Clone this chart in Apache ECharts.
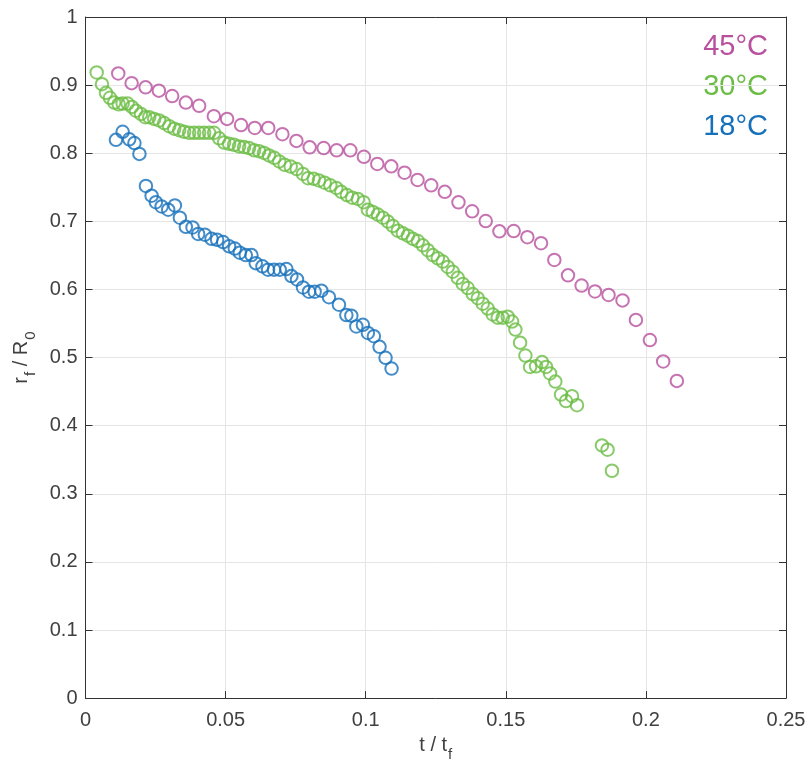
<!DOCTYPE html>
<html><head><meta charset="utf-8">
<script src="https://cdn.jsdelivr.net/npm/echarts@6/dist/echarts.min.js"></script>
<style>html,body{margin:0;padding:0;background:#fff}#c{width:810px;height:767px}</style>
</head><body><div id="c"></div>
<script>
const seriesNames = ['45°C', '30°C', '18°C'];
const seriesColors = ['#B8509F', '#6BBD45', '#1770BA'];
const xTicks = [0, 0.05, 0.1, 0.15, 0.2, 0.25];
const yTicks = [0, 0.1, 0.2, 0.3, 0.4, 0.5, 0.6, 0.7, 0.8, 0.9, 1];

const t45 = [0.01169,0.01646,0.02145,0.02619,0.03093,0.03582,0.04056,0.04580,0.05053,0.05552,0.06041,0.06522,0.07028,0.07527,0.08001,0.08500,0.08963,0.09451,0.09936,0.10413,0.10912,0.11386,0.11850,0.12338,0.12823,0.13311,0.13799,0.14284,0.14772,0.15282,0.15770,0.16258,0.16732,0.17220,0.17705,0.18182,0.18667,0.19166,0.19644,0.20143,0.20617,0.21105];
const r45 = [0.9171,0.9029,0.8967,0.8919,0.8839,0.8743,0.8696,0.8543,0.8504,0.8414,0.8371,0.8371,0.8279,0.8181,0.8086,0.8076,0.8043,0.8043,0.7947,0.7843,0.7807,0.7714,0.7607,0.7529,0.7433,0.7279,0.7147,0.7004,0.6853,0.6857,0.6767,0.6679,0.6433,0.6207,0.6057,0.5971,0.5919,0.5839,0.5553,0.5257,0.4943,0.4657];

const t30 = [0.00399,0.00588,0.00731,0.00873,0.01026,0.01183,0.01326,0.01504,0.01657,0.01800,0.01978,0.02131,0.02274,0.02452,0.02630,0.02808,0.02986,0.03165,0.03343,0.03521,0.03699,0.03877,0.04056,0.04234,0.04412,0.04590,0.04768,0.04946,0.05125,0.05303,0.05481,0.05659,0.05837,0.06016,0.06194,0.06372,0.06550,0.06736,0.06914,0.07110,0.07324,0.07537,0.07762,0.07940,0.08143,0.08332,0.08535,0.08738,0.08952,0.09130,0.09330,0.09522,0.09722,0.09925,0.10078,0.10257,0.10435,0.10613,0.10791,0.10969,0.11147,0.11326,0.11504,0.11682,0.11860,0.12038,0.12217,0.12395,0.12573,0.12751,0.12929,0.13108,0.13286,0.13464,0.13642,0.13820,0.13999,0.14177,0.14355,0.14533,0.14711,0.14890,0.15068,0.15225,0.15342,0.15510,0.15699,0.15866,0.16080,0.16294,0.16436,0.16579,0.16768,0.16971,0.17149,0.17363,0.17541,0.18432,0.18631,0.18788];
const r30 = [0.9186,0.9014,0.8886,0.8814,0.8743,0.8719,0.8729,0.8729,0.8680,0.8624,0.8576,0.8529,0.8529,0.8504,0.8481,0.8443,0.8396,0.8361,0.8338,0.8314,0.8300,0.8300,0.8300,0.8300,0.8300,0.8300,0.8219,0.8157,0.8139,0.8124,0.8100,0.8090,0.8076,0.8043,0.8029,0.8004,0.7967,0.7933,0.7880,0.7830,0.7804,0.7767,0.7696,0.7633,0.7624,0.7600,0.7567,0.7529,0.7490,0.7433,0.7386,0.7347,0.7329,0.7281,0.7171,0.7138,0.7100,0.7053,0.6996,0.6933,0.6862,0.6824,0.6790,0.6743,0.6710,0.6647,0.6576,0.6504,0.6457,0.6410,0.6330,0.6260,0.6170,0.6080,0.6020,0.5933,0.5871,0.5790,0.5719,0.5633,0.5586,0.5586,0.5600,0.5529,0.5410,0.5219,0.5029,0.4862,0.4871,0.4933,0.4862,0.4767,0.4647,0.4457,0.4362,0.4433,0.4300,0.3710,0.3647,0.3338];

const t18 = [0.01087,0.01326,0.01561,0.01746,0.01924,0.02156,0.02359,0.02512,0.02716,0.02951,0.03190,0.03368,0.03582,0.03820,0.04020,0.04259,0.04498,0.04697,0.04911,0.05125,0.05328,0.05506,0.05720,0.05923,0.06076,0.06315,0.06515,0.06728,0.06932,0.07170,0.07349,0.07548,0.07762,0.07976,0.08179,0.08418,0.08689,0.09045,0.09309,0.09487,0.09665,0.09900,0.10078,0.10292,0.10495,0.10709,0.10923];
const r18 = [0.8196,0.8314,0.8204,0.8150,0.7990,0.7519,0.7376,0.7281,0.7219,0.7171,0.7233,0.7053,0.6919,0.6910,0.6814,0.6804,0.6743,0.6729,0.6696,0.6633,0.6600,0.6539,0.6504,0.6504,0.6386,0.6339,0.6290,0.6290,0.6290,0.6300,0.6196,0.6147,0.6029,0.5967,0.5967,0.5981,0.5886,0.5776,0.5624,0.5614,0.5457,0.5481,0.5361,0.5314,0.5157,0.4996,0.4839];

const FONT = 'Liberation Sans, Arial, Helvetica, sans-serif';
const TXT = '#404040';
const AX = '#333333';
const xs = [t45, t30, t18], ys = [r45, r30, r18];

function zip(a, b) { return a.map((v, i) => [v, b[i]]); }

const chart = echarts.init(document.getElementById('c'), null, { renderer: 'canvas' });
const tickStyle = { show: true, inside: true, length: 7, lineStyle: { color: AX, width: 1 } };
const axLine = { show: true, onZero: false, lineStyle: { color: AX, width: 1 } };
const nameRich = {
  m: { fontSize: 20, fontFamily: FONT, color: TXT, lineHeight: 22, verticalAlign: 'top' },
  s: { fontSize: 15, fontFamily: FONT, color: TXT, lineHeight: 16, verticalAlign: 'top', padding: [12, 0, 0, 1] }
};

chart.setOption({
  animation: false,
  backgroundColor: '#fff',
  grid: { left: 85.5, right: 24, top: 17, bottom: 50, containLabel: false },
  xAxis: [{
    type: 'value', min: xTicks[0], max: xTicks[xTicks.length - 1], interval: 0.05,
    position: 'bottom',
    axisLine: axLine, axisTick: tickStyle,
    splitLine: { show: true, lineStyle: { color: '#e5e5e5', width: 1 } },
    axisLabel: { color: TXT, fontSize: 20, fontFamily: FONT, margin: 12, formatter: v => String(+v.toFixed(2)) },
    name: '{m|t / t}{s|f}', nameLocation: 'middle', nameGap: 25,
    nameTextStyle: { rich: nameRich }
  }, {
    type: 'value', min: xTicks[0], max: xTicks[xTicks.length - 1], interval: 0.05,
    position: 'top', axisLine: axLine, axisTick: tickStyle,
    axisLabel: { show: false }, splitLine: { show: false }
  }],
  yAxis: [{
    type: 'value', min: yTicks[0], max: yTicks[yTicks.length - 1], interval: 0.1,
    position: 'left',
    axisLine: axLine, axisTick: tickStyle,
    splitLine: { show: true, lineStyle: { color: '#e5e5e5', width: 1 } },
    axisLabel: { color: TXT, fontSize: 20, fontFamily: FONT, margin: 8, formatter: v => String(+v.toFixed(1)) },
    name: '{m|r}{s|f}{m| / R}{s|0}', nameLocation: 'middle', nameGap: 50,
    nameTextStyle: { rich: nameRich }
  }, {
    type: 'value', min: yTicks[0], max: yTicks[yTicks.length - 1], interval: 0.1,
    position: 'right', axisLine: axLine, axisTick: tickStyle,
    axisLabel: { show: false }, splitLine: { show: false }
  }],
  series: seriesNames.map((n, i) => ({
    name: n, type: 'scatter', xAxisIndex: 0, yAxisIndex: 0,
    symbol: 'circle', symbolSize: 12.5,
    itemStyle: { color: 'rgba(0,0,0,0)', borderColor: seriesColors[i], borderWidth: 2 },
    emphasis: { disabled: true },
    data: zip(xs[i], ys[i])
  })),
  graphic: seriesNames.map((n, i) => ({
    type: 'text', right: 42, top: 32 + 40 * i,
    style: { text: n, fill: seriesColors[i], fontSize: 29, fontFamily: FONT, textAlign: 'right' }
  }))
});
</script></body></html>
